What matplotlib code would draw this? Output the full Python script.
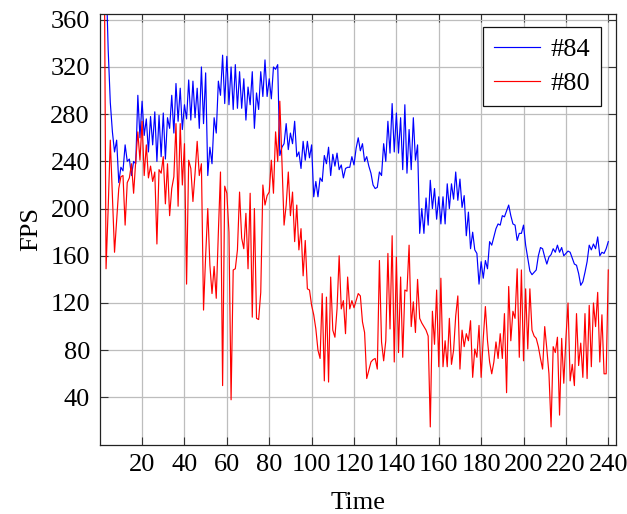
"""
FPS over time for two builds (#84 and #80).
"""
import numpy as np
import matplotlib
matplotlib.use("Agg")
import matplotlib.pyplot as plt

OUTPUT_PATH = "out.png"

# ── Data (one sample per time step) ───────────────────────────────────────────
FPS_84 = [
    700, 520, 400, 335, 290, 265, 248, 258, 222, 235,
    232, 254, 240, 242, 228, 240, 238, 296, 260, 291,
    262, 276, 248, 278, 254, 282, 240, 279, 244, 281,
    242, 277, 268, 296, 264, 306, 274, 302, 267, 288,
    276, 309, 275, 308, 277, 302, 268, 320, 272, 315,
    228, 252, 238, 277, 264, 308, 296, 330, 289, 329,
    288, 320, 284, 322, 285, 316, 285, 310, 275, 303,
    288, 316, 268, 298, 284, 316, 295, 326, 295, 310,
    293, 320, 318, 322, 245, 252, 255, 272, 250, 264,
    255, 274, 244, 248, 234, 257, 241, 257, 243, 254,
    210, 223, 210, 226, 223, 245, 238, 252, 228, 246,
    236, 247, 233, 237, 226, 234, 235, 235, 244, 237,
    251, 260, 249, 255, 240, 244, 236, 230, 220, 217,
    218, 231, 228, 255, 240, 274, 247, 289, 248, 281,
    247, 277, 233, 288, 230, 267, 233, 277, 241, 254,
    179, 200, 179, 209, 186, 224, 200, 217, 191, 210,
    187, 210, 187, 221, 200, 221, 208, 231, 207, 225,
    201, 211, 177, 197, 166, 180, 165, 162, 136, 155,
    141, 156, 149, 172, 169, 176, 183, 187, 186, 194,
    193, 198, 203, 194, 187, 186, 173, 179, 179, 186,
    169, 158, 147, 144, 146, 148, 160, 167, 166, 159,
    153, 159, 161, 166, 163, 169, 163, 167, 160, 162,
    164, 163, 158, 153, 152, 145, 135, 138, 146, 155,
    169, 165, 170, 166, 176, 160, 163, 162, 166, 172,
]

FPS_80 = [
    500, 474, 149, 200, 258, 210, 163, 190, 217, 227,
    228, 186, 222, 226, 238, 213, 240, 265, 241, 274,
    228, 254, 226, 236, 223, 231, 170, 233, 230, 244,
    204, 238, 194, 217, 227, 272, 202, 272, 220, 255,
    136, 241, 234, 206, 230, 257, 228, 238, 114, 160,
    200, 152, 128, 151, 124, 180, 231, 50, 219, 213,
    180, 38, 148, 149, 165, 214, 175, 166, 196, 149,
    213, 108, 200, 107, 106, 129, 220, 203, 211, 214,
    241, 213, 265, 240, 291, 240, 186, 203, 231, 194,
    214, 172, 203, 165, 183, 143, 173, 132, 131, 118,
    110, 98, 80, 73, 128, 54, 125, 53, 142, 97,
    91, 115, 160, 115, 122, 94, 142, 115, 122, 116,
    122, 128, 126, 104, 95, 56, 63, 70, 72, 73,
    64, 156, 87, 71, 88, 162, 98, 177, 70, 159,
    78, 142, 74, 131, 130, 169, 100, 121, 95, 140,
    107, 103, 100, 97, 92, 15, 113, 85, 131, 66,
    141, 66, 88, 66, 107, 68, 80, 109, 126, 64,
    97, 83, 94, 88, 105, 57, 81, 74, 101, 57,
    90, 117, 88, 70, 60, 70, 87, 73, 94, 73,
    111, 44, 134, 88, 113, 107, 149, 74, 148, 71,
    132, 81, 132, 97, 92, 90, 83, 73, 64, 100,
    81, 60, 15, 83, 78, 91, 25, 90, 52, 90,
    120, 54, 68, 50, 111, 67, 86, 57, 111, 56,
    118, 66, 120, 100, 129, 70, 110, 60, 60, 148,
]

SERIES_LABELS = ["#84", "#80"]
SERIES_COLORS = ["#0000ff", "#ff0000"]

X_TICKS = list(range(20, 241, 20))
Y_TICKS = list(range(40, 361, 40))

FONT = ["Liberation Serif", "DejaVu Serif"]


def draw_chart():
    plt.rcParams["font.family"] = FONT
    plt.rcParams["font.size"] = 19

    fig = plt.figure(figsize=(6.27, 5.14), dpi=100)
    ax = fig.add_axes([0.159, 0.135, 0.824, 0.838])

    for ys, label, color in zip([FPS_84, FPS_80], SERIES_LABELS, SERIES_COLORS):
        xs = np.arange(1, len(ys) + 1)
        ax.plot(xs, ys, color=color, lw=0.85, label=label)

    ax.set_xlim(0, 243.8)
    ax.set_ylim(0, 365)
    ax.set_xticks(X_TICKS)
    ax.set_yticks(Y_TICKS)
    ax.grid(True, color="#bdbdbd", lw=0.9)
    ax.set_axisbelow(True)
    ax.tick_params(direction="in", length=6, width=0.8, color="#333333",
                   top=True, right=True, pad=7)
    for sp in ax.spines.values():
        sp.set_linewidth(0.9)
        sp.set_color("#222222")

    ax.set_xlabel("Time", labelpad=11)
    ax.set_ylabel("FPS", labelpad=6)

    # legend box sits ~15 px in from the right and ~13 px down from the top
    leg = ax.legend(loc="upper right", fancybox=False, edgecolor="#111111",
                    framealpha=1, borderpad=0.42, handlelength=1.75,
                    handletextpad=0.4, labelspacing=0.38, borderaxespad=0,
                    bbox_to_anchor=(0.971, 0.97))
    leg.get_frame().set_linewidth(0.9)

    fig.savefig(OUTPUT_PATH, dpi=100)
    plt.close(fig)


if __name__ == "__main__":
    draw_chart()
